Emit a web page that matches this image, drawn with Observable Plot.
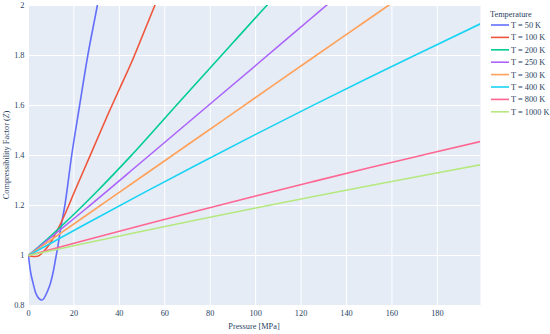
<!DOCTYPE html>
<html>
<head>
<meta charset="utf-8">
<script src="https://cdn.jsdelivr.net/npm/d3@7"></script>
<script src="https://cdn.jsdelivr.net/npm/@observablehq/plot@0.6"></script>
<style>
  html, body { margin: 0; padding: 0; background: #fff; }
  #chart { width: 550px; height: 334px; }
  #chart svg, #chart svg text { font-family: "Liberation Serif", "Times New Roman", serif !important; }
</style>
</head>
<body>
<div id="chart"></div>
<script>
// ---- data ----
const temperatures = ["T = 50 K", "T = 100 K", "T = 200 K", "T = 250 K", "T = 300 K", "T = 400 K", "T = 800 K", "T = 1000 K"];
const colors = ["#636efa", "#EF553B", "#00cc96", "#ab63fa", "#FFA15A", "#19d3f3", "#FF6692", "#B6E880"];

const p50  = [0, 0.5, 1, 2, 3, 4, 5, 5.7, 6.5, 7.5, 8.5, 9.7, 11, 12, 13, 14, 16, 19, 22.5, 26.1, 30.3, 31.5];
const z50  = [1, 0.96, 0.93, 0.89, 0.855, 0.835, 0.825, 0.822, 0.825, 0.84, 0.86, 0.89, 0.94, 0.99, 1.04, 1.1, 1.2, 1.4, 1.6, 1.8, 2.0, 2.06];
const p100 = [0, 2, 4, 6, 8, 10, 12, 14, 17, 20, 25, 30, 35, 40, 45.7, 50, 55.6, 60];
const z100 = [1, 0.996, 0.997, 1.01, 1.03, 1.055, 1.09, 1.125, 1.185, 1.25, 1.355, 1.46, 1.565, 1.665, 1.78, 1.875, 2.0, 2.1];
const p200 = [0, 10, 20, 30, 45, 67, 90.4, 104.9, 110];
const z200 = [1, 1.08, 1.165, 1.255, 1.3975, 1.62, 1.855, 2.0, 2.05];
const p250 = [0, 25, 50, 75, 100, 125, 131.1, 140];
const z250 = [1, 1.185, 1.376, 1.568, 1.76, 1.953, 2.0, 2.068];
const p300 = [0, 25, 50, 75, 100, 125, 150, 158.4, 165];
const z300 = [1, 1.158, 1.316, 1.474, 1.632, 1.79, 1.947, 2.0, 2.042];
const p400 = [0, 25, 50, 75, 100, 125, 150, 175, 199];
const z400 = [1, 1.125, 1.2475, 1.367, 1.4845, 1.5995, 1.712, 1.822, 1.927];
const p800 = [0, 25, 50, 75, 100, 125, 150, 175, 199];
const z800 = [1, 1.061, 1.121, 1.18, 1.238, 1.295, 1.351, 1.405, 1.456];
const p1000 = [0, 25, 50, 75, 100, 125, 150, 175, 199];
const z1000 = [1, 1.049, 1.097, 1.144, 1.19, 1.235, 1.279, 1.322, 1.363];

const xTicks = [0, 20, 40, 60, 80, 100, 120, 140, 160, 180];
const yTicks = [0.8, 1, 1.2, 1.4, 1.6, 1.8, 2];

const seriesP = [p50, p100, p200, p250, p300, p400, p800, p1000];
const seriesZ = [z50, z100, z200, z250, z300, z400, z800, z1000];
const data = [];
temperatures.forEach((t, i) => {
  seriesP[i].forEach((p, j) => data.push({T: t, P: p, Z: seriesZ[i][j]}));
});

const ink = "#2a3f5f";
const FONT = "'Liberation Serif', 'Times New Roman', serif";
const FS = "8.3px";
const W = 550, H = 334, ML = 28, MR = 70, MT = 5, MB = 29;

const chart = Plot.plot({
  width: W, height: H,
  marginLeft: ML, marginRight: MR, marginTop: MT, marginBottom: MB,
  style: {fontFamily: FONT, fontSize: FS, color: ink, background: "#fff"},
  x: {domain: [0, 199]},
  y: {domain: [0.8, 2]},
  color: {domain: temperatures, range: colors},
  marks: [
    Plot.frame({fill: "#E5ECF6", stroke: null}),
    Plot.gridX(xTicks, {stroke: "#fff", strokeOpacity: 1, strokeWidth: 1}),
    Plot.gridY(yTicks, {stroke: "#fff", strokeOpacity: 1, strokeWidth: 1}),
    Plot.line(data, {x: "P", y: "Z", z: "T", stroke: "T", strokeWidth: 1.6, curve: "monotone-x", clip: true}),
    Plot.axisX(xTicks, {tickSize: 0, tickPadding: 5, label: null, fill: ink}),
    Plot.axisY(yTicks, {tickSize: 0, tickPadding: 4, label: null, fill: ink, tickFormat: d => String(d)})
  ]
});
document.getElementById("chart").appendChild(chart);

const svg = d3.select(chart);
svg.attr("font-family", FONT).style("font-family", FONT);
// axis titles
svg.append("text")
  .attr("x", ML + (W - ML - MR) / 2).attr("y", 329)
  .attr("text-anchor", "middle").attr("fill", ink).attr("font-size", FS)
  .text("Pressure [MPa]");
const yt = svg.append("text")
  .attr("transform", `translate(8.5,${MT + (H - MT - MB) / 2}) rotate(-90)`)
  .attr("text-anchor", "middle").attr("fill", ink).attr("font-size", FS);
yt.append("tspan").text("Compressibility Factor (");
yt.append("tspan").attr("font-style", "italic").text("Z");
yt.append("tspan").text(")");

// legend
const lg = svg.append("g").attr("font-size", FS).attr("fill", ink).attr("text-anchor", "start");
lg.append("text").attr("x", 490).attr("y", 14).attr("dy", "0.35em").attr("text-anchor", "start").text("Temperature");
temperatures.forEach((t, i) => {
  const y = 25 + i * 12.4;
  lg.append("line").attr("x1", 491).attr("x2", 509).attr("y1", y).attr("y2", y)
    .attr("stroke", colors[i]).attr("stroke-width", 1.6);
  lg.append("text").attr("x", 511).attr("y", y).attr("dy", "0.35em").attr("text-anchor", "start").text(t);
});
svg.selectAll("text").style("font-family", FONT).style("font-size", FS);
</script>
</body>
</html>
